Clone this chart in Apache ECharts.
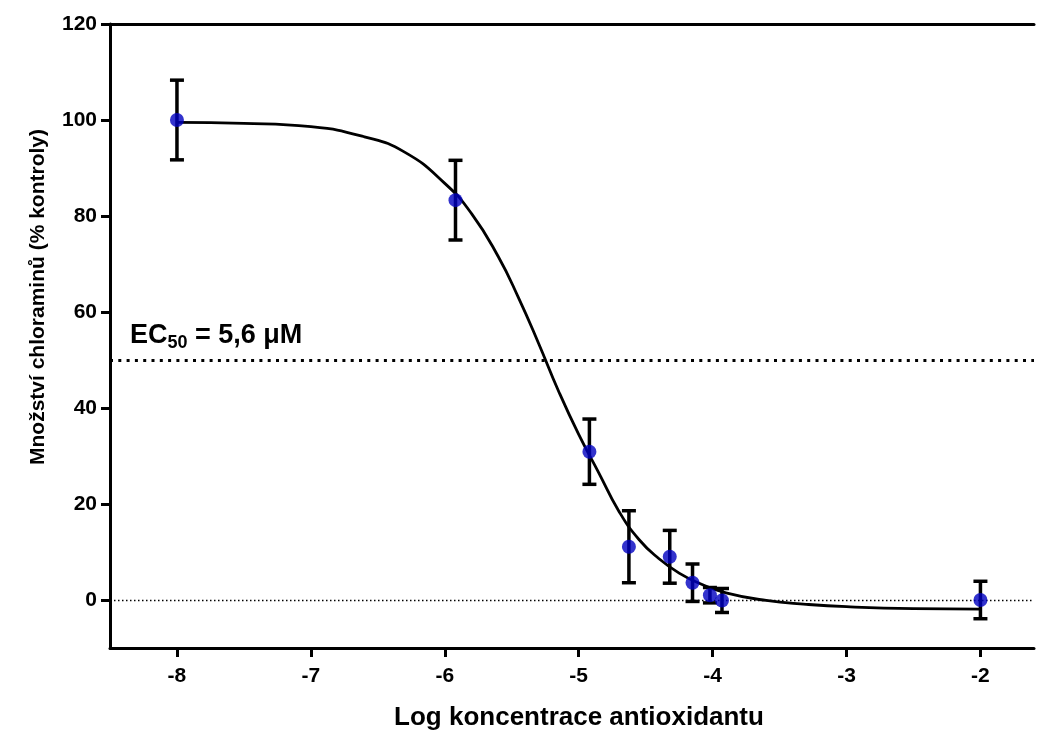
<!DOCTYPE html>
<html>
<head>
<meta charset="utf-8">
<script src="https://cdn.jsdelivr.net/npm/echarts@6/dist/echarts.min.js"></script>
<style>
	html, body { margin: 0; padding: 0; background: #fff; }
	#chart { width: 1037px; height: 737px; }
</style>
</head>
<body>
<div id="chart"></div>
<script>
// measured points (log concentration, mean, error)
var logConc = [-8, -5.92, -4.92, -4.625, -4.32, -4.15, -4.02, -3.93, -2];
var meanVal = [100, 83.3, 30.9, 11.1, 9.0, 3.6, 1.0, -0.1, 0];
var errVal  = [8.3, 8.3, 6.8, 7.5, 5.5, 3.9, 1.6, 2.5, 3.9];

// fitted curve
var fitX = [-8, -7.5, -7, -6.6, -6.3, -6.0, -5.8, -5.6, -5.45, -5.3, -5.15, -5.0, -4.85, -4.7, -4.55, -4.4, -4.25, -4.1, -3.9, -3.6, -3.3, -3.0, -2.5, -2];
var fitY = [99.5, 99.3, 98.6, 96.5, 93.3, 86.8, 80.5, 71.5, 63, 53.5, 43.5, 34.5, 26.5, 18.5, 12.6, 8.6, 5.6, 3.5, 1.5, -0.1, -0.9, -1.4, -1.8, -1.9];

var xTicks = [-8, -7, -6, -5, -4, -3, -2];
var yTicks = [0, 20, 40, 60, 80, 100, 120];

var font = 'Liberation Sans, Arial, Helvetica, sans-serif';

var chart = echarts.init(document.getElementById('chart'));

var pointData = [];
var errData = [];
for (var i = 0; i < logConc.length; i++) {
	pointData.push([logConc[i], meanVal[i]]);
	errData.push([logConc[i], meanVal[i] - errVal[i], meanVal[i] + errVal[i]]);
}
var fitData = [];
for (var j = 0; j < fitX.length; j++) {
	fitData.push([fitX[j], fitY[j]]);
}

var axisLineStyle = { color: '#000', width: 3 };

chart.setOption({
	animation: false,
	backgroundColor: '#fff',
	grid: { left: 110, right: 3, top: 24, bottom: 89 },
	xAxis: [
	{
		type: 'value',
		min: -8.5,
		max: -1.6,
		position: 'bottom',
		axisLine: { show: true, onZero: false, lineStyle: axisLineStyle },
		axisTick: { show: true, customValues: xTicks, length: 9, lineStyle: axisLineStyle },
		axisLabel: {
			customValues: xTicks, margin: 18, color: '#000',
			fontSize: 21, fontWeight: 'bold', fontFamily: font
		},
		splitLine: { show: false }
	},
	{
		type: 'value',
		min: -8.5,
		max: -1.6,
		position: 'top',
		axisLine: { show: true, onZero: false, lineStyle: axisLineStyle },
		axisTick: { show: false },
		axisLabel: { show: false },
		splitLine: { show: false }
	}
	],
	yAxis: {
		type: 'value',
		min: -10,
		max: 120,
		axisLine: { show: true, onZero: false, lineStyle: axisLineStyle },
		axisTick: { show: true, customValues: yTicks, length: 9, lineStyle: axisLineStyle },
		axisLabel: {
			customValues: yTicks, margin: 13, color: '#000',
			fontSize: 21, fontWeight: 'bold', fontFamily: font
		},
		splitLine: { show: false }
	},
	graphic: [
	{
		type: 'text',
		x: 38,
		y: 297,
		rotation: Math.PI / 2,
		style: {
			text: 'Množství chloraminů (% kontroly)',
			fill: '#000', fontSize: 21, fontWeight: 'bold', fontFamily: font,
			align: 'center', verticalAlign: 'middle'
		}
	},
	{
		type: 'text',
		x: 579,
		y: 718,
		style: {
			text: 'Log koncentrace antioxidantu',
			fill: '#000', fontSize: 26, fontWeight: 'bold', fontFamily: font,
			align: 'center', verticalAlign: 'middle'
		}
	},
	{
		type: 'text',
		left: 130,
		top: 322,
		style: {
			text: '{a|EC}{b|50}{a| = 5,6 μM}',
			rich: {
				a: { fontSize: 27, fontWeight: 'bold', fontFamily: font, fill: '#000', lineHeight: 34, verticalAlign: 'middle' },
				b: { fontSize: 18, fontWeight: 'bold', fontFamily: font, fill: '#000', lineHeight: 34, verticalAlign: 'bottom' }
			}
		}
	}
	],
	series: [
	{
		name: 'fit',
		type: 'line',
		data: fitData,
		smooth: 0.5,
		showSymbol: false,
		lineStyle: { color: '#000', width: 2.8 },
		z: 3,
		markLine: {
			silent: true,
			symbol: 'none',
			label: { show: false },
			data: [
				{ yAxis: 50, lineStyle: { color: '#000', width: 3, type: [3, 5.3] } },
				{ yAxis: 0, lineStyle: { color: '#000', width: 1.3, type: [1.5, 2.5] } }
			]
		}
	},
	{
		name: 'error',
		type: 'custom',
		data: errData,
		z: 4,
		renderItem: function(params, api) {
			var x = api.value(0);
			var lo = api.coord([x, api.value(1)]);
			var hi = api.coord([x, api.value(2)]);
			var w = 7;
			var st = { stroke: '#000', lineWidth: 3.5 };
			return {
				type: 'group',
				children: [
					{ type: 'line', shape: { x1: lo[0], y1: lo[1], x2: hi[0], y2: hi[1] }, style: st },
					{ type: 'line', shape: { x1: hi[0] - w, y1: hi[1], x2: hi[0] + w, y2: hi[1] }, style: st },
					{ type: 'line', shape: { x1: lo[0] - w, y1: lo[1], x2: lo[0] + w, y2: lo[1] }, style: st }
				]
			};
		}
	},
	{
		name: 'points',
		type: 'scatter',
		data: pointData,
		symbol: 'circle',
		symbolSize: 14,
		itemStyle: { color: '#0000c0' },
		z: 5
	}
	]
});
</script>
</body>
</html>
